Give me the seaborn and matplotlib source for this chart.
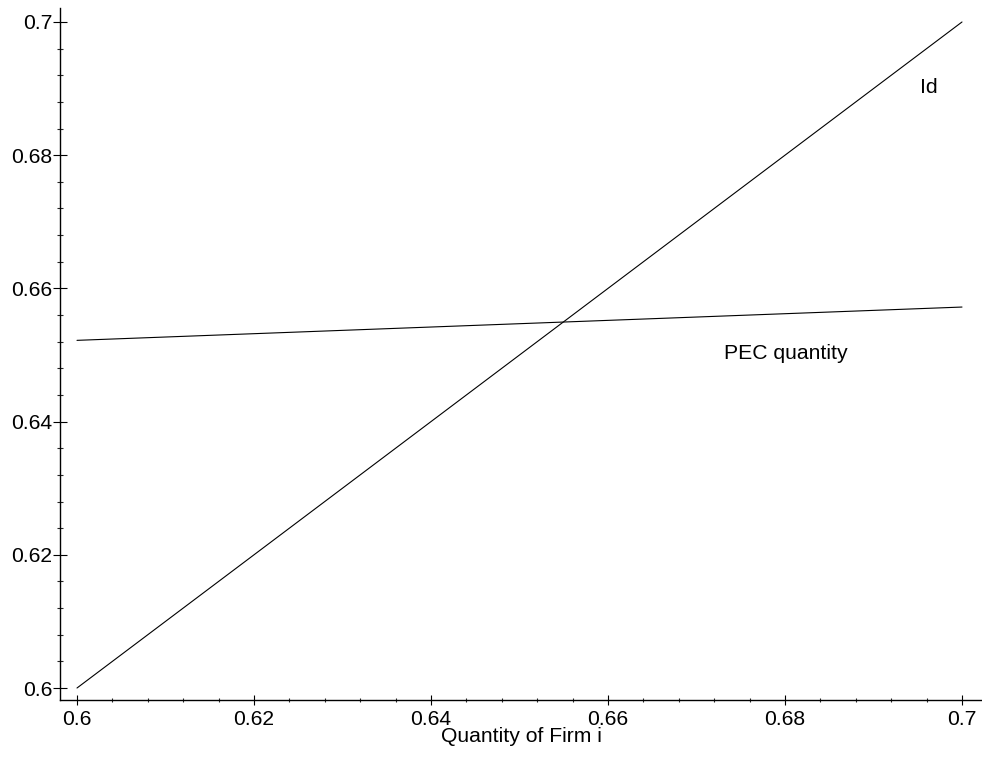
import matplotlib
matplotlib.use("Agg")
import matplotlib.pyplot as plt
import seaborn as sns
import pandas as pd
from matplotlib.ticker import MultipleLocator

# Data
quantity = [0.6, 0.7]
id_line = [0.6, 0.7]
pec_quantity = [0.6522, 0.6572]
x_ticks = [0.6, 0.62, 0.64, 0.66, 0.68, 0.7]
y_ticks = [0.6, 0.62, 0.64, 0.66, 0.68, 0.7]
x_tick_labels = ["0.6", "0.62", "0.64", "0.66", "0.68", "0.7"]
y_tick_labels = ["0.6", "0.62", "0.64", "0.66", "0.68", "0.7"]

sns.set_style("white")
plt.rcParams['font.family'] = ['Liberation Sans', 'DejaVu Sans']
plt.rcParams['text.color'] = 'black'
plt.rcParams['axes.labelcolor'] = 'black'

df = pd.concat([
    pd.DataFrame({"q": quantity, "v": id_line, "s": "Id"}),
    pd.DataFrame({"q": quantity, "v": pec_quantity, "s": "PEC quantity"}),
])

fig = plt.figure(figsize=(9.82, 7.58), dpi=100)
ax = fig.add_axes([60/982, 1-700/758, 922/982, 692/758])

sns.lineplot(data=df, x="q", y="v", units="s", estimator=None, color="black",
             linewidth=0.8, ax=ax, legend=False)

ax.set_xlim(0.59808, 0.70226)
ax.set_ylim(0.5982, 0.7021)

for side in ["top", "right"]:
    ax.spines[side].set_visible(False)
for side in ["left", "bottom"]:
    ax.spines[side].set_color("black")
    ax.spines[side].set_linewidth(1.0)

ax.set_xticks(x_ticks)
ax.set_xticklabels(x_tick_labels)
ax.set_yticks(y_ticks)
ax.set_yticklabels(y_tick_labels)
ax.xaxis.set_minor_locator(MultipleLocator(0.004))
ax.yaxis.set_minor_locator(MultipleLocator(0.004))

fs = 15.2
ax.tick_params(axis="y", which="major", direction="inout", length=10, width=0.8,
               pad=0.5, labelsize=fs, colors="black", left=True)
ax.tick_params(axis="y", which="minor", direction="inout", length=5, width=0.8, left=True)
ax.tick_params(axis="x", which="major", direction="inout", length=7, width=0.8,
               pad=4, labelsize=fs, colors="black", bottom=True)
ax.tick_params(axis="x", which="minor", direction="inout", length=3.5, width=0.8, bottom=True)

ax.set_xlabel("Quantity of Firm i", fontsize=fs, labelpad=-2, color="black")
ax.set_ylabel("")

ax.text(0.6962, 0.6901, "Id", fontsize=fs, ha="center", va="center", color="black")
ax.text(0.6801, 0.65015, "PEC quantity", fontsize=fs, ha="center", va="center", color="black")

fig.savefig("out.png", dpi=100)
